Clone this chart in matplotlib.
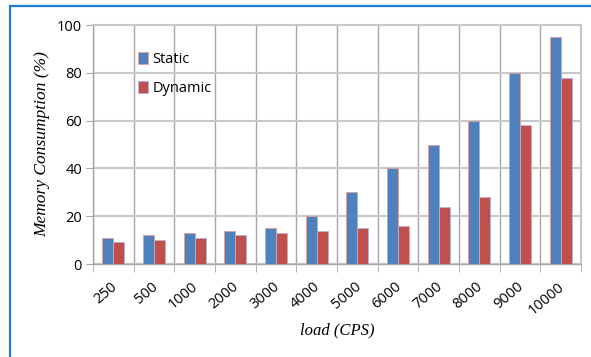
import matplotlib
matplotlib.use("Agg")
import matplotlib.pyplot as plt
import matplotlib.transforms as mtransforms
import numpy as np
from matplotlib.patches import Rectangle

loads = ["250", "500", "1000", "2000", "3000", "4000", "5000",
         "6000", "7000", "8000", "9000", "10000"]
static = [11, 12, 13, 14, 15, 20, 30, 40, 50, 60, 80, 95]
dynamic = [9, 10, 11, 12, 13, 14, 15, 16, 24, 28, 58, 78]
yticks = [0, 20, 40, 60, 80, 100]

BLUE = "#4F81BD"
RED = "#C0504D"
GRID = "#a6a6a6"

fig = plt.figure(figsize=(5.91, 3.57), dpi=100)
ax = fig.add_axes([93 / 591, 1 - 264 / 357, (581 - 93) / 591, (264 - 25) / 357])

x = np.arange(len(loads))
w = 0.27
ax.bar(x - w / 2, static, w, color=BLUE, edgecolor="#d9a0a0", linewidth=0.6,
       label="Static", zorder=3)
ax.bar(x + w / 2, dynamic, w, color=RED, edgecolor="#b8b0d0", linewidth=0.6,
       label="Dynamic", zorder=3)

ax.set_xlim(-0.5, len(loads) - 0.5)
ax.set_ylim(0, 100)
ax.set_yticks(yticks)
ax.set_xticks(x)
ax.set_xticklabels(loads, rotation=40, ha="right", rotation_mode="anchor",
                   family="Open Sans", fontsize=10.5)
ax.set_yticklabels([str(v) for v in yticks], family="Open Sans", fontsize=10.5)
ax.tick_params(axis="x", length=0, pad=11)
ax.tick_params(axis="y", length=5, color=GRID, pad=3)

# nudge the rotated category labels slightly to the left
shift = mtransforms.ScaledTranslation(-3 / 100, 0, fig.dpi_scale_trans)
for lbl in ax.get_xticklabels():
    lbl.set_transform(lbl.get_transform() + shift)

# category boundary gridlines with tick marks below the axis
ax.set_xticks(np.arange(len(loads) + 1) - 0.5, minor=True)
ax.tick_params(axis="x", which="minor", length=6, color=GRID)
ax.grid(True, which="minor", axis="x", color=GRID, linewidth=1.0, zorder=0)
ax.grid(True, which="major", axis="y", color="#c8c8c8", linewidth=1.5, zorder=0)

for side in ["top", "right"]:
    ax.spines[side].set_color("#c8c8c8")
    ax.spines[side].set_linewidth(1.5)
for side in ["left", "bottom"]:
    ax.spines[side].set_color(GRID)
    ax.spines[side].set_linewidth(1.0)

ax.set_ylabel("Memory Consumption (%)", family="Liberation Serif",
              style="italic", fontsize=12.5)
ax.set_xlabel("load (CPS)", family="Liberation Serif", style="italic",
              fontsize=12)
ax.yaxis.set_label_coords(-0.088, 0.5)
ax.xaxis.set_label_coords(0.5, -0.245)

ax.legend(loc="upper left", bbox_to_anchor=(0.08, 0.91), frameon=False,
          prop={"family": "Open Sans", "size": 10.5}, handlelength=0.7,
          handleheight=0.9, handletextpad=0.3, labelspacing=0.95,
          borderaxespad=0)

# blue frame around the figure
fig.add_artist(Rectangle((10 / 591, -0.1), 1.2, 1.1 - 6.5 / 357,
                         transform=fig.transFigure, fill=False,
                         edgecolor="#1f7fd6", linewidth=1.6))

fig.savefig("out.png", dpi=100)
